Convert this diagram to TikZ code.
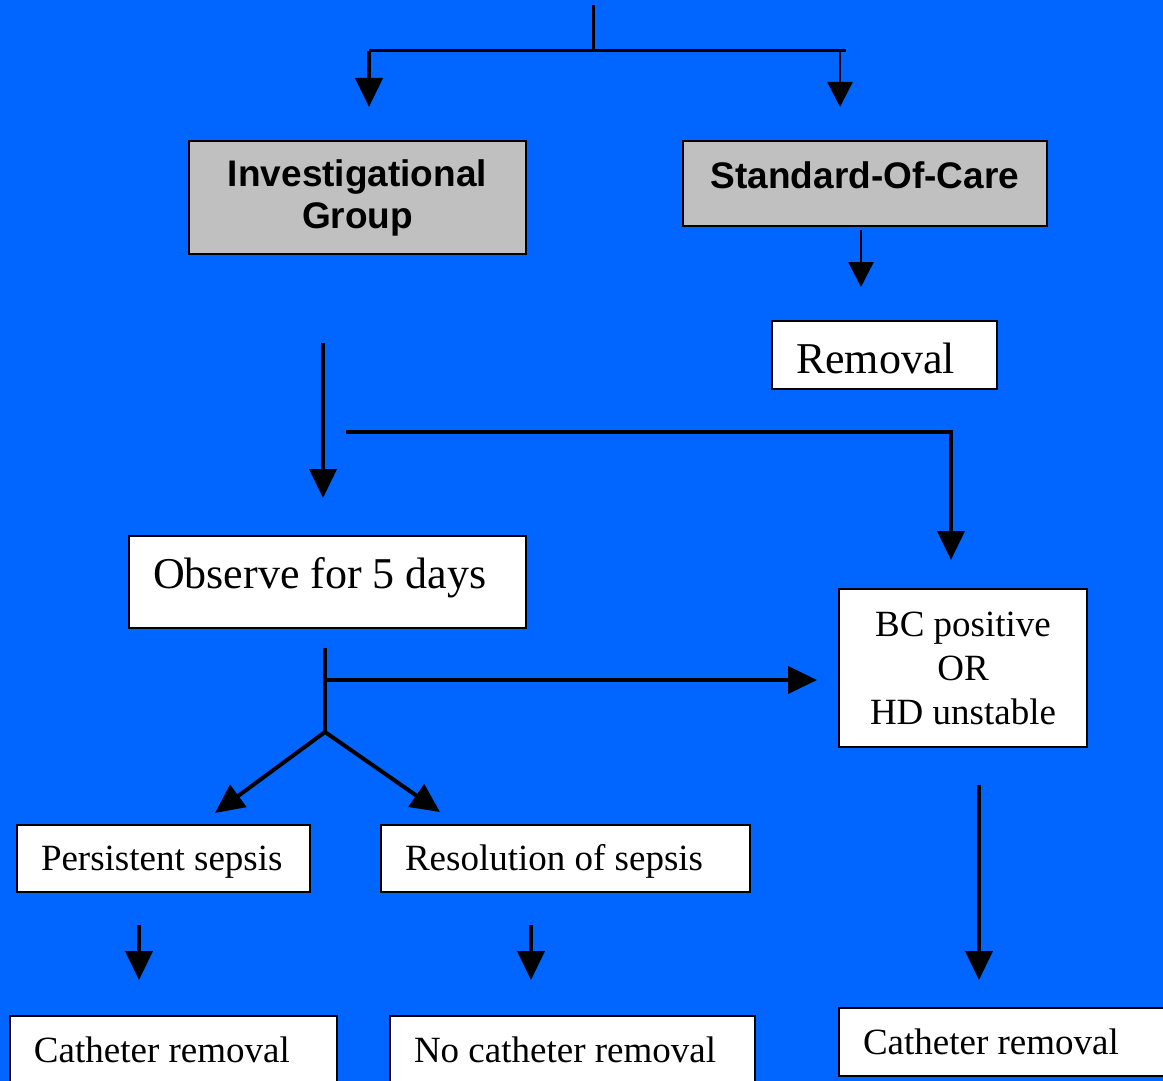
\documentclass[tikz,border=0pt]{standalone}
\usepackage{fontspec}
\setmainfont{Liberation Serif}
\newfontfamily\arialfont{Liberation Sans}
\usepackage{tikz}
\usetikzlibrary{positioning, arrows.meta}
\definecolor{slideblue}{RGB}{0,102,255}
\definecolor{boxgrey}{RGB}{192,192,192}
\tikzset{
  greybox/.style={draw, fill=boxgrey, line width=1.5pt, outer sep=0pt, align=center,
    font=\arialfont\bfseries\fontsize{37}{42}\selectfont},
  whitebox/.style={draw, fill=white, line width=1.5pt, outer sep=0pt, anchor=north west,
    inner xsep=24pt, inner ysep=0pt, align=flush left, text width=#1,
    font=\fontsize{44}{44}\selectfont},
  smallbox/.style={whitebox=#1, text height=25pt, text depth=1pt,
    font=\fontsize{37}{44}\selectfont},
  arr/.style={line width=4pt, -{Triangle[length=29pt,width=27pt]}},
  thinarr/.style={line width=2.5pt, -{Triangle[length=25pt,width=25pt]}},
  ln/.style={line width=3pt}
}
\begin{document}
\begin{tikzpicture}[x=1pt, y=-1pt]
\clip (0,0) rectangle (1163,1081);
\fill[slideblue] (0,0) rectangle (1163,1081);
% boxes
\node[greybox, minimum width=337pt, minimum height=113pt] (invest) at (357.5,197.5) {Investigational\\Group};
\node[greybox, minimum width=364pt, minimum height=85pt, text depth=16pt] (soc) at (865,183.5) {Standard-Of-Care};
\node[whitebox=177pt, minimum height=68pt, text height=36pt, text depth=0pt] (removal) at (772,321) {Removal};
\node[whitebox=349pt, minimum height=92pt, text height=30pt, text depth=18pt] (observe) at (129,536) {Observe for 5 days};
\node[draw, fill=white, line width=1.5pt, outer sep=0pt, align=center, minimum width=248pt,
  minimum height=158pt, font=\fontsize{37}{44}\selectfont] (bc) at (963,668) {BC positive\\OR\\HD unstable};
\node[smallbox=245pt, minimum height=67pt] (persist) at (17,825) {Persistent sepsis};
\node[smallbox=321pt, minimum height=67pt] (resol) at (381,825) {Resolution of sepsis};
\node[smallbox=279pt, minimum height=68pt] (cath1) at (10,1016) {Catheter removal};
\node[smallbox=317pt, minimum height=68pt] (nocath) at (390,1016) {No catheter removal};
\node[smallbox=292pt, minimum height=68pt] (cath2) at (839,1008) {Catheter removal};
% connector points
\coordinate (top) at (593,5);
\coordinate (split) at (593,51);
\coordinate (splitL) at (369,51);
\coordinate (splitR) at (846,51);
\coordinate (investIn) at (369,107);
\coordinate (socIn) at (840,107);
\coordinate (socOut) at (861,230);
\coordinate (removalIn) at (861,287);
\coordinate (investOut) at (323,343);
\coordinate (observeIn) at (323,498);
\coordinate (branch) at (346,432);
\coordinate (bcIn) at (951,560);
\coordinate (observeOut) at (325,648);
\coordinate (obsMid) at (325,680);
\coordinate (bcLeft) at (817,680);
\coordinate (fork) at (325,732);
\coordinate (persistIn) at (215,813);
\coordinate (resolIn) at (440,812);
\coordinate (persistOut) at (139,925);
\coordinate (cathIn) at (139,980);
\coordinate (resolOut) at (531,925);
\coordinate (nocathIn) at (531,980);
\coordinate (bcOut) at (979,785);
\coordinate (cathTwoIn) at (979,980);
% connectors
\draw[ln] (top) -- (split);
\draw[ln] (splitL) -- (splitR);
\draw[arr] (splitL) -- (investIn);
\draw[thinarr] (splitR -| socIn) -- (socIn);
\draw[thinarr] (socOut) -- (removalIn);
\draw[arr] (investOut) -- (observeIn);
\draw[arr] (branch) -| (bcIn);
\draw[line width=4pt] (observeOut) -- (fork);
\draw[arr] (obsMid) -- (bcLeft);
\draw[arr] (fork) -- (persistIn);
\draw[arr] (fork) -- (resolIn);
\draw[arr] (persistOut) -- (cathIn);
\draw[arr] (resolOut) -- (nocathIn);
\draw[arr] (bcOut) -- (cathTwoIn);
\end{tikzpicture}
\end{document}
